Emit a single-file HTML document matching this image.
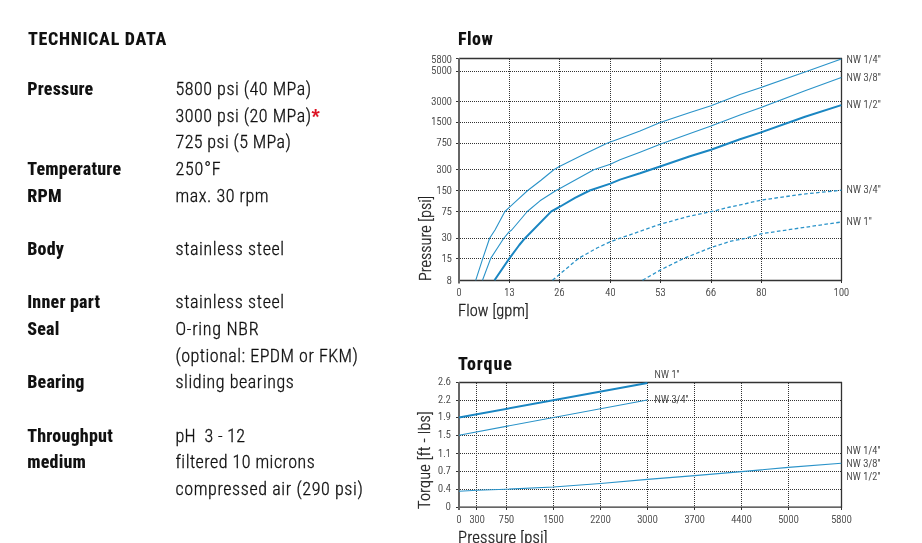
<!DOCTYPE html>
<html>
<head>
<meta charset="utf-8">
<style>
html,body{margin:0;padding:0;background:#fff;}
body{width:922px;height:543px;position:relative;overflow:hidden;font-family:"Roboto Condensed","Liberation Sans Narrow","Liberation Sans",sans-serif;}
.t{position:absolute;white-space:nowrap;line-height:1;}
.h{font-weight:800;font-size:18px;color:#111;}
.l{font-weight:800;font-size:18px;color:#111;left:27.2px;letter-spacing:0.2px;}
.v{font-weight:300;font-size:18px;color:#111;left:175.5px;letter-spacing:0.62px;-webkit-text-stroke:0.3px #111;}
.star{color:#dc1020;font-weight:700;-webkit-text-stroke:0.2px #dc1020;}
svg{position:absolute;left:0;top:0;}
</style>
</head>
<body>
<div class="t h" style="left:28px;top:30px;letter-spacing:0.7px;">TECHNICAL DATA</div>

<div class="t l" style="top:79.9px;">Pressure</div>
<div class="t v" style="top:79.9px;letter-spacing:0.51px;">5800 psi (40 MPa)</div>
<div class="t v" style="top:106.6px;letter-spacing:0.51px;">3000 psi (20 MPa)<span class="star">*</span></div>
<div class="t v" style="top:133.3px;letter-spacing:0.38px;">725 psi (5 MPa)</div>
<div class="t l" style="top:159.9px;">Temperature</div>
<div class="t v" style="top:159.9px;letter-spacing:0.8px;">250°F</div>
<div class="t l" style="top:186.6px;">RPM</div>
<div class="t v" style="top:186.6px;letter-spacing:0.53px;">max. 30 rpm</div>
<div class="t l" style="top:240.0px;">Body</div>
<div class="t v" style="top:240.0px;">stainless steel</div>
<div class="t l" style="top:293.3px;">Inner part</div>
<div class="t v" style="top:293.3px;">stainless steel</div>
<div class="t l" style="top:320.0px;">Seal</div>
<div class="t v" style="top:320.0px;letter-spacing:0.71px;">O-ring NBR</div>
<div class="t v" style="top:346.7px;letter-spacing:0.49px;">(optional: EPDM or FKM)</div>
<div class="t l" style="top:373.4px;">Bearing</div>
<div class="t v" style="top:373.4px;letter-spacing:0.56px;">sliding bearings</div>
<div class="t l" style="top:426.7px;">Throughput</div>
<div class="t v" style="top:426.7px;letter-spacing:0.29px;">pH&nbsp; 3 - 12</div>
<div class="t l" style="top:453.4px;">medium</div>
<div class="t v" style="top:453.4px;letter-spacing:0.46px;">filtered 10 microns</div>
<div class="t v" style="top:480.1px;letter-spacing:0.6px;">compressed air (290 psi)</div>

<svg width="922" height="543" viewBox="0 0 922 543">
<g font-family="Roboto Condensed, Liberation Sans Narrow, Liberation Sans, sans-serif">
<!-- ============ FLOW CHART ============ -->
<text x="458" y="44.6" font-size="18" font-weight="800" fill="#111" letter-spacing="0.45">Flow</text>
<!-- grid -->
<g stroke="#333" stroke-width="1" stroke-dasharray="1 1" fill="none" shape-rendering="crispEdges">
<path d="M460 71.5H841 M460 101.5H841 M460 122.5H841 M460 143.5H841 M460 169.5H841 M460 190.5H841 M460 211.5H841 M460 238.5H841 M460 258.5H841"/>
<path d="M509.5 59V280 M559.5 59V280 M610.5 59V280 M660.5 59V280 M711.5 59V280 M761.5 59V280"/>
</g>
<!-- ticks -->
<g stroke="#333" stroke-width="1" shape-rendering="crispEdges">
<path d="M456 71.5H459 M456 101.5H459 M456 122.5H459 M456 143.5H459 M456 169.5H459 M456 190.5H459 M456 211.5H459 M456 238.5H459 M456 258.5H459 M456 58.5H459"/>
<path d="M509.5 280V283 M559.5 280V283 M610.5 280V283 M660.5 280V283 M711.5 280V283 M761.5 280V283 M841.5 280V283"/>
</g>
<!-- frame -->
<path d="M459 58.5H842 M841.5 58V281 M459 280.5H842" stroke="#333" stroke-width="1.3" fill="none"/>
<path d="M459 58V283.5" stroke="#666" stroke-width="2" fill="none"/>
<!-- curves -->
<g fill="none" stroke-linejoin="round" stroke-linecap="butt">
<polyline stroke="#2a93c9" stroke-width="1.1" points="475.7,280.3 482.8,258.4 489.6,238.3 495,230 504.9,211.5 509.3,207.4 518,199.4 527.7,190.5 541,180.2 553.8,169.8 559.4,166.6 583,154.8 606.5,143.4 610.3,142.0 620,138.5 640,131.1 660.8,122.3 690,112.6 711,105.8 740,94.6 761.8,87.2 805,72 841.3,58.9"/>
<polyline stroke="#2a93c9" stroke-width="1.1" points="482.5,280.3 490.7,258.4 503.6,238.5 509.3,231.7 511.7,230 527.3,211.5 540,200.8 556,190.5 559.4,188.8 593.8,169.8 610.3,164.2 620,159.8 640,152.3 660.8,144 690,133.4 711,126.1 740,115 761.8,107.2 805,90.8 841.3,77.4"/>
<polyline stroke="#1a86c2" stroke-width="2" points="494.5,280.3 509.4,258.4 519.3,245 524.6,238.7 551.3,211.4 559.4,207 575,197.8 589.7,190.5 610.3,183.6 620,179.6 640,173.3 660.8,166.2 690,156.2 711,149.7 740,139.2 761.8,132.1 805,116.7 841.3,105.1"/>
<polyline stroke="#2a93c9" stroke-width="1.3" stroke-dasharray="3.6 2.4" points="552.5,280.3 559.6,274.3 578.5,258.4 597,248 610.4,241.7 619.5,238.4 660.6,224.1 690,216 710.9,211.7 730,207 761.8,200.1 800,194.5 841.5,190.2"/>
<polyline stroke="#2a93c9" stroke-width="1.3" stroke-dasharray="3.6 2.4" points="642.5,280.3 660.6,269.9 683.4,258.6 710.9,247.6 730,241.4 745,238.4 761.8,233.7 800,228 841.5,222"/>
</g>
<!-- y labels -->
<g font-size="10.3" fill="#333" font-weight="300" stroke="#333" stroke-width="0.15" letter-spacing="0.15" text-anchor="end">
<text x="452" y="62.7">5800</text>
<text x="452" y="73.7">5000</text>
<text x="452" y="104.6">3000</text>
<text x="452" y="124.8">1500</text>
<text x="452" y="145.7">750</text>
<text x="452" y="172.6">300</text>
<text x="452" y="193.5">150</text>
<text x="452" y="214.5">75</text>
<text x="452" y="240.6">30</text>
<text x="452" y="261.5">15</text>
<text x="452" y="284.1">8</text>
</g>
<!-- x labels -->
<g font-size="10.3" fill="#333" font-weight="300" stroke="#333" stroke-width="0.15" letter-spacing="0.15" text-anchor="middle">
<text x="459" y="296">0</text>
<text x="509.5" y="296">13</text>
<text x="559.5" y="296">26</text>
<text x="610.5" y="296">40</text>
<text x="660.5" y="296">53</text>
<text x="711" y="296">66</text>
<text x="761.5" y="296">80</text>
<text x="841.5" y="296">100</text>
</g>
<text x="458" y="316.4" font-size="16.4" font-weight="300" fill="#222" stroke="#222" stroke-width="0.3" letter-spacing="0.1">Flow [gpm]</text>
<text transform="translate(430.5 281) rotate(-90)" font-size="16.3" font-weight="300" fill="#222" stroke="#222" stroke-width="0.3">Pressure [psi]</text>
<g font-size="10.3" fill="#333" font-weight="300" stroke="#333" stroke-width="0.15" letter-spacing="0.15">
<text x="846.5" y="63.2">NW 1/4"</text>
<text x="846.5" y="81.3">NW 3/8"</text>
<text x="846.5" y="107.9">NW 1/2"</text>
<text x="846.5" y="193">NW 3/4"</text>
<text x="846.5" y="224.6">NW 1"</text>
</g>

<!-- ============ TORQUE CHART ============ -->
<text x="458" y="369.7" font-size="18" font-weight="800" fill="#111" letter-spacing="0.9">Torque</text>
<g stroke="#333" stroke-width="1" stroke-dasharray="1 1" fill="none" shape-rendering="crispEdges">
<path d="M460 400.5H841 M460 417.5H841 M460 435.5H841 M460 453.5H841 M460 471.5H841 M460 489.5H841"/>
<path d="M476.5 383V507 M506.5 383V507 M553.5 383V507 M600.5 383V507 M647.5 383V507 M694.5 383V507 M741.5 383V507 M788.5 383V507"/>
</g>
<g stroke="#333" stroke-width="1" shape-rendering="crispEdges">
<path d="M456 382.5H459 M456 400.5H459 M456 417.5H459 M456 435.5H459 M456 453.5H459 M456 471.5H459 M456 489.5H459 M456 507.5H459"/>
<path d="M476.5 507V510 M506.5 507V510 M553.5 507V510 M600.5 507V510 M647.5 507V510 M694.5 507V510 M741.5 507V510 M788.5 507V510 M841.5 507V510"/>
</g>
<path d="M459 382.5H842 M841.5 382V508 M459 507.2H842" stroke="#333" stroke-width="1.3" fill="none"/>
<path d="M459 382V510" stroke="#666" stroke-width="2" fill="none"/>
<g fill="none" stroke-linejoin="round">
<polyline stroke="#1a86c2" stroke-width="2" points="459,417.5 647.4,383.1"/>
<polyline stroke="#2a93c9" stroke-width="1.1" points="459,435.2 647.4,400"/>
<polyline stroke="#2a93c9" stroke-width="1.1" points="459,491.2 477,490.3 506,489.2 553.4,487 600.5,483.5 647.4,479.4 694.7,475.6 741.5,471.6 788.4,467.4 841.3,463.2"/>
</g>
<g font-size="10.3" fill="#333" font-weight="300" stroke="#333" stroke-width="0.15" letter-spacing="0.15" text-anchor="end">
<text x="451" y="385">2.6</text>
<text x="451" y="402.8">2.2</text>
<text x="451" y="420.4">1.9</text>
<text x="451" y="438.2">1.5</text>
<text x="451" y="456.7">1.1</text>
<text x="451" y="474.3">0.7</text>
<text x="451" y="492.2">0.4</text>
<text x="451" y="510.3">0</text>
</g>
<g font-size="10.3" fill="#333" font-weight="300" stroke="#333" stroke-width="0.15" letter-spacing="0.15" text-anchor="middle">
<text x="459" y="523">0</text>
<text x="477.2" y="523">300</text>
<text x="506.5" y="523">750</text>
<text x="553.5" y="523">1500</text>
<text x="600.5" y="523">2200</text>
<text x="647.5" y="523">3000</text>
<text x="694.7" y="523">3700</text>
<text x="741.5" y="523">4400</text>
<text x="788.5" y="523">5000</text>
<text x="841.5" y="523">5800</text>
</g>
<text x="458" y="542.9" font-size="16.6" font-weight="300" fill="#222" stroke="#222" stroke-width="0.3" letter-spacing="0.2">Pressure [psi]</text>
<text transform="translate(430.3 509) rotate(-90)" font-size="16.3" font-weight="300" fill="#222" stroke="#222" stroke-width="0.3" letter-spacing="0.2">Torque [ft - lbs]</text>
<g font-size="10.3" fill="#333" font-weight="300" stroke="#333" stroke-width="0.15" letter-spacing="0.15">
<text x="654.4" y="377.6">NW 1"</text>
<text x="654.4" y="402.6">NW 3/4"</text>
<text x="846.3" y="453.6">NW 1/4"</text>
<text x="846.3" y="466.5">NW 3/8"</text>
<text x="846.3" y="479.5">NW 1/2"</text>
</g>
</g>
</svg>
</body>
</html>
